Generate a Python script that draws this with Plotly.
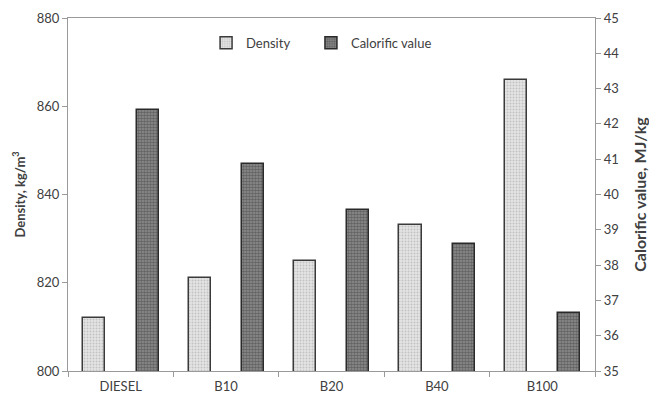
import plotly.graph_objects as go

# Fuel blends and measured properties
fuels = ["DIESEL", "B10", "B20", "B40", "B100"]
density = [812, 821, 825, 833, 866]            # kg/m3
calorific = [42.4, 40.85, 39.55, 38.6, 36.65]  # MJ/kg

density_ticks = [800, 820, 840, 860, 880]
calorific_ticks = [35, 36, 37, 38, 39, 40, 41, 42, 43, 44, 45]

FONT = "Lato, 'Open Sans', sans-serif"
AXIS_GRAY = "#9a9a9a"
TEXT = "#404040"
BAR_W = 0.21

fig = go.Figure()

fig.add_trace(go.Bar(
    x=fuels, y=density, name="Density", yaxis="y", legend="legend",
    width=BAR_W, offset=-0.355,
    marker=dict(
        color="#dcdcdc",
        line=dict(color="#3a3a3a", width=1.5),
        pattern=dict(shape=".", fgcolor="#a0a0a0", bgcolor="#e4e4e4",
                     size=3, solidity=0.35),
    ),
))

fig.add_trace(go.Bar(
    x=fuels, y=calorific, name="Calorific value", yaxis="y2", legend="legend2",
    width=BAR_W, offset=0.15,
    marker=dict(
        color="#606060",
        line=dict(color="#2a2a2a", width=1.5),
        pattern=dict(shape=".", fgcolor="#383838", bgcolor="#8e8e8e",
                     size=3, solidity=0.55),
    ),
))

legend_style = dict(
    orientation="h", y=0.93, xanchor="left", yanchor="middle",
    font=dict(family=FONT, size=13, color=TEXT),
    bgcolor="rgba(0,0,0,0)",
)

fig.update_layout(
    width=649, height=396,
    margin=dict(l=68, r=54, t=18, b=25),
    paper_bgcolor="white", plot_bgcolor="white",
    font=dict(family=FONT, size=13, color=TEXT),
    showlegend=True,
    legend=dict(x=0.262, **legend_style),
    legend2=dict(x=0.461, **legend_style),
    bargap=0,
    xaxis=dict(
        type="category", tickson="boundaries", ticks="outside", ticklen=5,
        tickcolor=AXIS_GRAY, showline=True, linecolor=AXIS_GRAY, linewidth=1.2,
        mirror=True, showgrid=False, zeroline=False, ticklabelstandoff=3,
        automargin=False,
        tickfont=dict(family=FONT, size=13, color=TEXT),
    ),
    yaxis=dict(
        range=[800, 880], tickvals=density_ticks, ticks="outside", ticklen=5,
        tickcolor=AXIS_GRAY, showline=True, linecolor=AXIS_GRAY, linewidth=1.2,
        showgrid=False, zeroline=False, automargin=False,
        tickfont=dict(family=FONT, size=13, color=TEXT),
        title=dict(text="<b>Density, kg/m<sup>3</sup></b>", standoff=8,
                   font=dict(family=FONT, size=13, color=TEXT)),
    ),
    yaxis2=dict(
        range=[35, 45], tickvals=calorific_ticks, overlaying="y", side="right",
        ticks="outside", ticklen=5, tickcolor=AXIS_GRAY, showline=True,
        linecolor=AXIS_GRAY, linewidth=1.2, showgrid=False, zeroline=False,
        automargin=False,
        tickfont=dict(family=FONT, size=13, color=TEXT),
        title=dict(text="<b>Calorific value, MJ/kg</b>", standoff=16,
                   font=dict(family=FONT, size=16, color=TEXT)),
    ),
)

fig.write_html("out.html")
